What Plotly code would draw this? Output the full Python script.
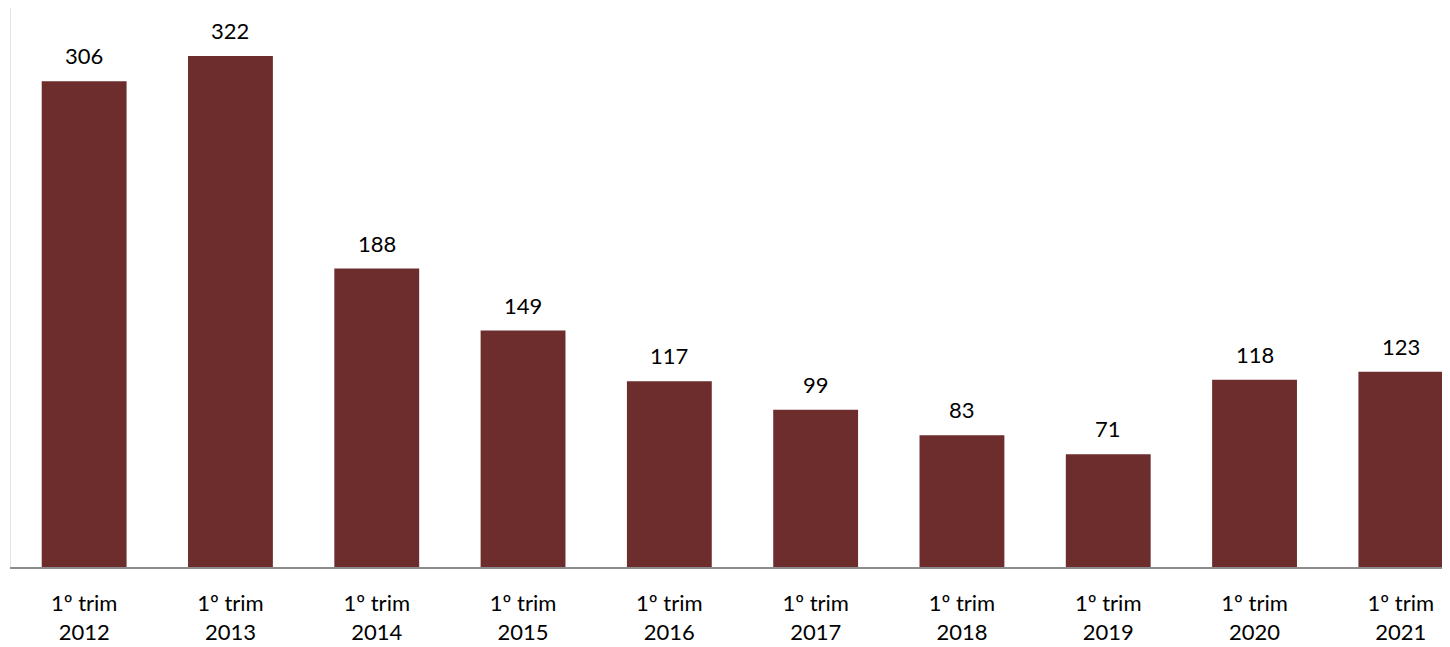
import plotly.graph_objects as go

categories = ["1º trim<br>2012", "1º trim<br>2013", "1º trim<br>2014", "1º trim<br>2015",
              "1º trim<br>2016", "1º trim<br>2017", "1º trim<br>2018", "1º trim<br>2019",
              "1º trim<br>2020", "1º trim<br>2021"]
values = [306, 322, 188, 149, 117, 99, 83, 71, 118, 123]

FONT = "Lato"
BAR_COLOR = "#6D2D2D"

fig = go.Figure()
fig.add_trace(go.Bar(
    x=list(range(len(categories))),
    y=values,
    marker=dict(color=BAR_COLOR, line=dict(width=0)),
    width=0.58,
    hoverinfo="skip",
))

for i, v in enumerate(values):
    fig.add_annotation(x=i, y=v, text=str(v), showarrow=False,
                       yanchor="bottom", yshift=10,
                       font=dict(family=FONT, size=22, color="black"))

# page body has an 8px default margin, so the figure is sized to fit the remaining window
fig.update_layout(
    width=1442, height=639,
    margin=dict(l=3, r=0, t=0, b=80, autoexpand=False),
    paper_bgcolor="white", plot_bgcolor="white",
    showlegend=False,
    font=dict(family=FONT, size=22, color="black"),
    xaxis=dict(
        range=[-0.5, 9.336],
        tickmode="array",
        tickvals=list(range(len(categories))),
        ticktext=categories,
        showline=True, linecolor="#8C8C8C", linewidth=2,
        showgrid=False, zeroline=False, ticks="",
        automargin=False,
        ticklabelstandoff=16,
        tickfont=dict(family=FONT, size=22, color="black"),
    ),
    yaxis=dict(
        range=[0, 352.2],
        showline=True, linecolor="#E3E3E3", linewidth=1,
        showgrid=False, zeroline=False, showticklabels=False, ticks="",
        automargin=False,
    ),
    bargap=0.42,
)

fig.write_html("out.html")
